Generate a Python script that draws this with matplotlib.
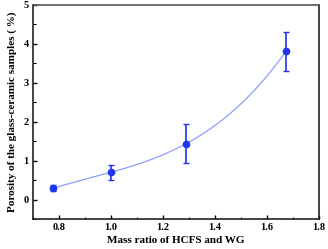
import numpy as np
import matplotlib
matplotlib.use("Agg")
import matplotlib.pyplot as plt
from matplotlib.ticker import MultipleLocator

# Data
mass_ratio = [0.778, 1.0, 1.29, 1.673]
porosity = [0.29, 0.70, 1.44, 3.81]
porosity_err = [0.08, 0.20, 0.50, 0.50]

plt.rcParams['font.family'] = ['Liberation Serif', 'DejaVu Serif']
plt.rcParams['font.weight'] = 'bold'

fig = plt.figure(figsize=(3.28, 2.49), dpi=100)
ax = fig.add_axes([0.1006, 0.1205, 0.872, 0.8595])

# smooth guide line through the points
coef = np.polyfit(mass_ratio, porosity, 3)
xs = np.linspace(mass_ratio[0], mass_ratio[-1], 200)
ax.plot(xs, np.polyval(coef, xs), color='#8f9cff', lw=0.9, zorder=1)

ax.errorbar(mass_ratio, porosity, yerr=porosity_err, fmt='o', color='#1f35f0',
            ms=4.5, elinewidth=1.2, capsize=2, capthick=1.0, zorder=2)

ax.set_xlim(0.7, 1.8)
ax.set_ylim(-0.5, 5)
ax.xaxis.set_major_locator(MultipleLocator(0.2))
ax.xaxis.set_minor_locator(MultipleLocator(0.1))
ax.yaxis.set_major_locator(MultipleLocator(1))
ax.yaxis.set_minor_locator(MultipleLocator(0.5))
ax.tick_params(which='both', direction='in', top=False, right=False, labelsize=7.5, pad=3)
ax.tick_params(which='major', length=3, width=1)
ax.tick_params(which='minor', length=1.8, width=0.8)
ax.set_xticks([0.8, 1.0, 1.2, 1.4, 1.6, 1.8])
ax.set_xticklabels(['0.8', '1.0', '1.2', '1.4', '1.6', '1.8'])

for s in ax.spines.values():
    s.set_linewidth(1.2)
    s.set_color('#222222')
ax.spines['top'].set_color('#555555')

ax.set_xlabel('Mass ratio of HCFS and WG', fontsize=8, fontweight='bold', labelpad=3)
ax.set_ylabel('Porosity of the glass-ceramic samples ( %)', fontsize=8, fontweight='bold', labelpad=5)

fig.savefig('out.png', dpi=100)
